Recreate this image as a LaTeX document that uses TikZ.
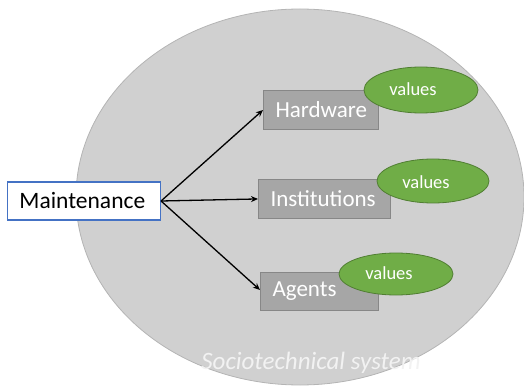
\documentclass[tikz,border=0pt]{standalone}
\usepackage{fontspec}
\setmainfont{Carlito}
\usetikzlibrary{arrows.meta}
\definecolor{sysfill}{RGB}{208,208,208}
\definecolor{sysedge}{RGB}{180,180,180}
\definecolor{partfill}{RGB}{166,166,166}
\definecolor{partedge}{RGB}{135,135,135}
\definecolor{valfill}{RGB}{112,173,71}
\definecolor{valedge}{RGB}{80,126,50}
\definecolor{mainedge}{RGB}{68,114,196}
\tikzset{
  partbox/.style={draw=partedge, fill=partfill, line width=0.9pt,
    inner sep=0pt, anchor=north west},
  partlabel/.style={text=white, font=\fontsize{23}{25}\selectfont, anchor=west},
  vallabel/.style={text=white, font=\fontsize{18.5}{20}\selectfont},
  valshape/.style={draw=valedge, fill=valfill, line width=0.8pt},
  link/.style={-{Stealth[length=7pt,width=6pt]}, line width=1.3pt, black}
}
\begin{document}
\begin{tikzpicture}[x=1pt,y=-1pt]
\useasboundingbox (0,0) rectangle (524,387);
\begin{scope}
\clip (0,0) rectangle (524,387);
% the system as a whole
\draw[fill=sysfill, draw=sysedge, line width=0.8pt] (300,197) ellipse [x radius=224, y radius=188];
\end{scope}
\node[text=white!95!black, font=\fontsize{25}{27}\itshape\selectfont] (sys) at (311,363) {Sociotechnical system};

% component boxes
\node[partbox, minimum width=115pt, minimum height=39pt] (hw) at (263,90) {};
\node[partlabel] at ([xshift=9pt]hw.west) {Hardware};
\node[partbox, minimum width=132pt, minimum height=39pt] (inst) at (258,179) {};
\node[partlabel] at ([xshift=9pt]inst.west) {Institutions};
\node[partbox, minimum width=118pt, minimum height=38pt] (ag) at (260,272) {};
\node[partlabel] at ([xshift=9pt]ag.west) {Agents};

% values attached to each component
\draw[valshape] (421,90) ellipse [x radius=57, y radius=23];
\node[vallabel] (v1) at (413,89) {values};
\draw[valshape] (433,181) ellipse [x radius=56, y radius=22];
\node[vallabel] (v2) at (426,182) {values};
\draw[valshape] (396,274) ellipse [x radius=57, y radius=21];
\node[vallabel] (v3) at (389,273) {values};

% maintenance activity
\node[draw=mainedge, fill=white, line width=1.1pt, minimum width=153pt, minimum height=38pt,
  inner sep=0pt] (mt) at (84,201) {};
\node[text=black, font=\fontsize{23.5}{25}\selectfont, anchor=west] (mtl) at ([xshift=9pt]mt.west) {Maintenance};

\coordinate (src) at (mt.east);
\draw[link] (src) -- (hw.west |- 0,110);
\draw[link] (src) -- (inst.west);
\draw[link] (src) -- (ag.west |- 0,290);
\end{tikzpicture}
\end{document}
